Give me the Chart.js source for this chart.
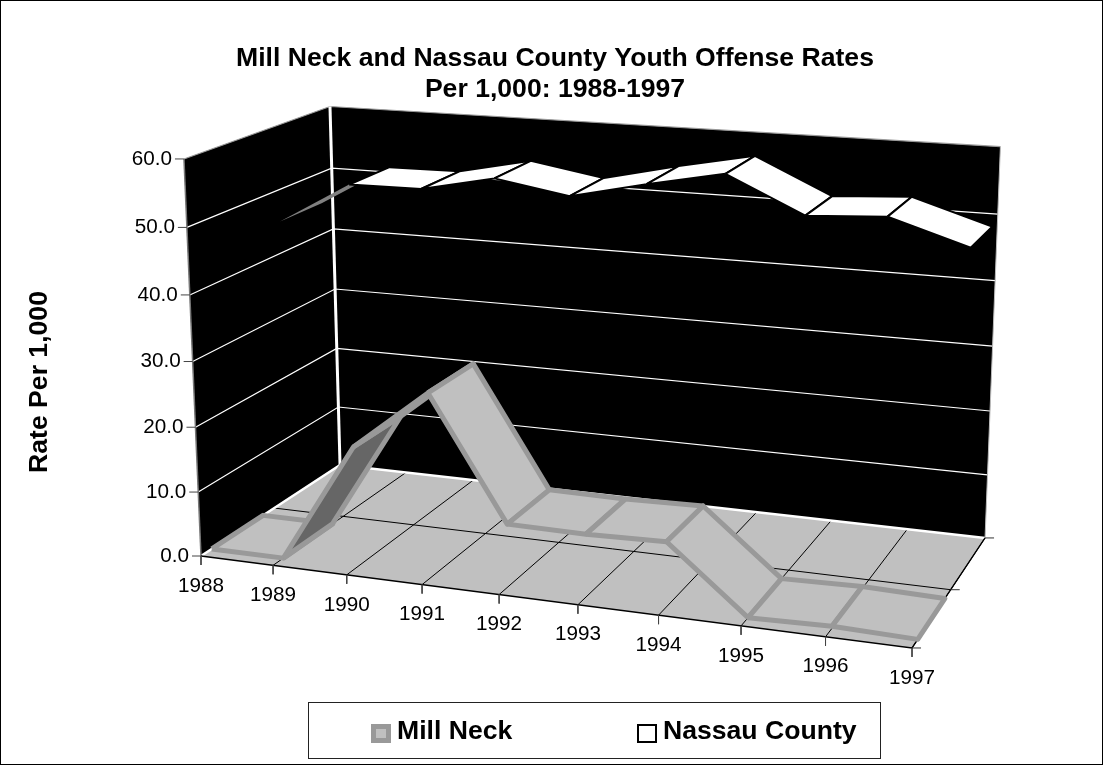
<!DOCTYPE html>
<html>
<head>
<meta charset="utf-8">
<title>Youth Offense Rates</title>
<script src="https://cdn.jsdelivr.net/npm/chart.js@4/dist/chart.umd.min.js"></script>
<style>
  html, body { margin: 0; background: #fff; }
  canvas { display: block; }
</style>
</head>
<body>
<canvas id="ribbon-chart" width="1103" height="765"></canvas>
<script>
// DATA
const years = ['1988','1989','1990','1991','1992','1993','1994','1995','1996','1997'];
const millNeck = [0, 0, 18.5, 27.8, 9.5, 9.4, 9.7, 0, 0.3, 0];
const nassauCounty = [45, 51.6, 51.7, 54.1, 52.2, 54.8, 57.1, 51.8, 52.5, 48.9];
const valueTicks = [0, 10, 20, 30, 40, 50, 60];
const titleLines = ['Mill Neck and Nassau County Youth Offense Rates', 'Per 1,000: 1988-1997'];

// ribbon depth slots, 0 = front of the floor, 1 = back wall
const millDepth = [0.07, 0.42];
const nassauDepth = [0.61, 0.92];

// perspective camera for the box: category, value, depth -> canvas px
const cam = {
  ox: 201, oy: 556,
  xx: 622.1, xy: 28.8,
  yx: -24.4, yy: -403.4,
  zx: 177.6, zy: -38.3,
  p: -0.0975, q: -0.04, r: 0.1134
};
const lastCat = years.length - 1;
const topValue = valueTicks[valueTicks.length - 1];

function project(cat, value, depth) {
  const u = cat / lastCat, v = value / topValue;
  const w = 1 + cam.p * u + cam.q * v + cam.r * depth;
  return {
    x: (cam.ox + cam.xx * u + cam.yx * v + cam.zx * depth) / w,
    y: (cam.oy + cam.xy * u + cam.yy * v + cam.zy * depth) / w
  };
}

// every shape is one scatter dataset, pushed back to front
const shapes = [];
function line(points, color, width) {
  shapes.push({ data: points, showLine: true, fill: false, borderColor: color, borderWidth: width, pointRadius: 0, tension: 0 });
}
function poly(points, fillColor, color, width) {
  shapes.push({
    data: points.concat([points[0]]), showLine: true, fill: 'shape', backgroundColor: fillColor,
    borderColor: color, borderWidth: width, pointRadius: 0, tension: 0, borderJoinStyle: 'round'
  });
}
function area2(a) {
  let s = 0;
  a.forEach((pt, i) => { const n = a[(i + 1) % a.length]; s += pt.x * n.y - n.x * pt.y; });
  return s;
}

// walls and floor
poly([project(0, 0, 0), project(0, topValue, 0), project(0, topValue, 1), project(0, 0, 1)], '#000', '#000', 0);
poly([project(0, 0, 1), project(0, topValue, 1), project(lastCat, topValue, 1), project(lastCat, 0, 1)], '#000', '#000', 0);
poly([project(0, 0, 0), project(lastCat, 0, 0), project(lastCat, 0, 1), project(0, 0, 1)], '#c0c0c0', '#c0c0c0', 0);

// value gridlines run along both walls
valueTicks.forEach(v => {
  if (v === 0) return;
  line([project(0, v, 0), project(0, v, 1), project(lastCat, v, 1)], v === topValue ? '#999' : '#fff', 1.2);
});
// floor grid
years.forEach((y, i) => line([project(i, 0, 0), project(i, 0, 1)], '#000', 1));
line([project(0, 0, 0.5), project(lastCat, 0, 0.5)], '#000', 1);

// wall edges
line([project(0, 0, 0), project(0, 0, 1), project(lastCat, 0, 1)], '#fff', 2.5);
line([project(0, 0, 1), project(0, topValue, 1)], '#fff', 3);
line([project(lastCat, 0, 1), project(lastCat, topValue, 1)], '#bbb', 1);
line([project(0, 0, 0), project(0, topValue, 0)], '#777', 1.5);

// axes and tick marks
line([project(0, 0, 0), project(lastCat, 0, 0), project(lastCat, 0, 1)], '#000', 1.3);
function offset(pt, dx, dy) { return { x: pt.x + dx, y: pt.y + dy }; }
years.forEach((y, i) => {
  const a = project(i, 0, 0);
  line([a, offset(a, 0, 9)], '#444', 1);
});
valueTicks.forEach(v => {
  const a = project(0, v, 0);
  line([a, offset(a, -9, 0)], '#444', 1);
});
[0, 0.5, 1].forEach(d => {
  const a = project(lastCat, 0, d);
  line([a, offset(a, 9, 0)], '#333', 1);
});

// ribbons, one quad per pair of neighbouring years
function ribbon(values, depth, topFill, underFill, color, width) {
  for (let i = 0; i < lastCat; i++) {
    const quad = [
      project(i, values[i], depth[0]), project(i + 1, values[i + 1], depth[0]),
      project(i + 1, values[i + 1], depth[1]), project(i, values[i], depth[1])
    ];
    if (area2(quad) > 0) {
      poly(quad, underFill, width > 2 ? color : underFill, width > 2 ? width : 0);
    } else {
      poly(quad, topFill, color, width);
    }
  }
}
ribbon(nassauCounty, nassauDepth, '#fff', '#808080', '#000', 2);
ribbon(millNeck, millDepth, '#c0c0c0', '#666', '#999', 5);

// chart.js paints dataset 0 last
shapes.reverse();

const titleFont = { family: '"Liberation Sans", Arial, sans-serif', size: 26.6, weight: 'bold', lineHeight: 1.165 };
const titlePad = { top: 43, bottom: 0 };
const titleHeight = titlePad.top + titlePad.bottom + titleLines.length * titleFont.size * titleFont.lineHeight;
const leftPad = 7;

// axis text, legend and outer frame
const chartText = {
  id: 'chartText',
  afterDraw(chart) {
    const c = chart.ctx;
    const family = '"Liberation Sans", Arial, sans-serif';
    c.save();
    c.fillStyle = '#000';
    c.textBaseline = 'middle';

    c.font = '20.7px ' + family;
    c.textAlign = 'center';
    years.forEach((y, i) => {
      const a = project(i, 0, 0);
      c.fillText(y, a.x, a.y + 30);
    });
    c.textAlign = 'right';
    valueTicks.forEach(v => {
      const a = project(0, v, 0);
      c.fillText(v.toFixed(1), a.x - 12, a.y);
    });

    c.font = 'bold 26.6px ' + family;
    c.save();
    c.translate(40, 382);
    c.rotate(-Math.PI / 2);
    c.textAlign = 'center';
    c.fillText('Rate Per 1,000', 0, 0);
    c.restore();

    // legend
    c.strokeStyle = '#222';
    c.lineWidth = 1;
    c.strokeRect(308.5, 702.5, 572, 56);
    c.fillStyle = '#999';
    c.fillRect(371, 724, 20, 19);
    c.fillStyle = '#c0c0c0';
    c.fillRect(376, 729, 10, 9);
    c.strokeStyle = '#000';
    c.lineWidth = 2;
    c.strokeRect(638, 725, 18, 17);
    c.fillStyle = '#000';
    c.textAlign = 'left';
    c.fillText('Mill Neck', 397, 732);
    c.fillText('Nassau County', 663, 732);

    c.strokeStyle = '#000';
    c.lineWidth = 1;
    c.strokeRect(0.5, 0.5, 1102, 764);
    c.restore();
  }
};

new Chart(document.getElementById('ribbon-chart'), {
  type: 'scatter',
  data: { datasets: shapes },
  options: {
    responsive: false,
    animation: false,
    events: [],
    layout: { padding: { left: leftPad } },
    scales: {
      x: { type: 'linear', display: false, min: leftPad, max: 1103 },
      y: { type: 'linear', display: false, reverse: true, min: titleHeight, max: 765 }
    },
    plugins: {
      legend: { display: false },
      tooltip: { enabled: false },
      title: { display: true, text: titleLines, color: '#000', font: titleFont, padding: titlePad }
    }
  },
  plugins: [chartText]
});
</script>
</body>
</html>
